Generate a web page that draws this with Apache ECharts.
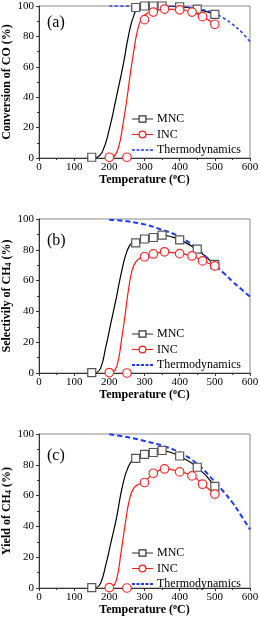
<!DOCTYPE html>
<html><head><meta charset="utf-8">
<script src="https://cdn.jsdelivr.net/npm/echarts@6/dist/echarts.min.js"></script>
<style>html,body{margin:0;padding:0;background:#fff}#c{width:260px;height:623px}</style>
</head><body><div id="c"></div>
<script>
// ---- data ----
const mncX = [150, 275, 300, 325, 350, 400, 450, 500];
const incX = [200, 250, 300, 325, 357, 400, 435, 465, 500];
const mncA = [0.5, 99, 100, 100, 100, 99.5, 98, 94.5];
const incA = [0.5, 0.5, 91, 96, 98, 97.5, 96, 93, 88];
const mncB = [0.3, 84.5, 87, 88, 89.5, 86.5, 80.5, 70.5];
const incB = [0.3, 0, 75.5, 77.3, 78.7, 77.5, 76, 72.8, 69.5];
const mncC = [0.3, 84.2, 86.8, 88, 89.3, 85.7, 78.4, 66];
const incC = [0.3, 0, 68.5, 74.5, 77.3, 75.4, 72.8, 67.4, 61];

// fitted curves
const mncFitAx = [162, 180, 200, 220, 240, 255, 270, 285, 300, 350, 400, 450, 500];
const mncFitAy = [0, 4, 19, 40, 62, 81, 94, 99.5, 100, 100, 99.5, 98, 94.5];
const incFitAx = [210, 225, 240, 250, 260, 270, 280, 290, 300, 325, 357, 400, 435, 465, 500];
const incFitAy = [0, 6, 24, 39, 56, 71, 84, 91, 94, 97, 98, 97.5, 96, 93, 88];
const mncFitBx = [162, 175, 190, 205, 220, 235, 250, 265, 280, 300, 325, 350, 375, 400, 450, 500];
const mncFitBy = [0, 3, 17, 33, 49, 66, 79, 85, 86.5, 87, 88.5, 89.5, 88.5, 86.5, 80, 70];
const incFitBx = [209, 222, 235, 245, 255, 265, 275, 287, 300, 325, 357, 400, 435, 465, 500];
const incFitBy = [0, 5, 22, 38, 55, 67, 72, 74.5, 75.5, 77.3, 78.5, 77.5, 76, 73, 69.5];
const mncFitCx = [162, 175, 190, 205, 220, 237, 254, 270, 300, 325, 350, 375, 400, 450, 500];
const mncFitCy = [0, 3, 15, 30, 45, 65.9, 78.8, 83.5, 87, 88.5, 89, 88, 85.5, 78.5, 66];
const incFitCx = [207, 220, 233, 247, 258, 270, 285, 300, 325, 357, 400, 435, 465, 500];
const incFitCy = [0, 5, 22.7, 44.3, 58, 65, 67.5, 69, 74, 77.3, 75.5, 73, 67.5, 61];

const thX = [200, 250, 300, 350, 400, 450, 500, 525, 550, 575, 600];
const thA = [100, 100, 100, 100, 99.6, 98.5, 95, 92, 88, 83, 76.5];
const thB = [99.5, 98.5, 96.5, 93, 88.5, 80.5, 70, 65, 59.5, 54.5, 49.5];
const thC = [99.8, 98, 95.5, 92.5, 88, 80.5, 69, 62.5, 55.5, 47, 38];

const xTicks = [0, 100, 200, 300, 400, 500, 600];
const yTicks = [0, 20, 40, 60, 80, 100];
const panelLabels = ['(a)', '(b)', '(c)'];
const yNames = ['Conversion of CO (%)', 'Selectivily of CH{sub|4} (%)', 'Yield of CH{sub|4} (%)'];

// ---- chart ----
const F = 'Liberation Serif';
const zip = (xs, ys) => xs.map((x, i) => [x, ys[i]]);
const tops = [6, 219, 434];
const H = [152, 154, 154];
const legendTops = [113, 328, 547];
const labelOff = [9, 14, 14];
// legend icon paths (21 x 8 box; tiny corner squares fix the bounding box)
const BOX = 'M0 0h0.01v0.01h-0.01Z M20.99 7.99h0.01v0.01h-0.01Z ';
const iconMNC = 'path://' + BOX + 'M0 3.4H6.5V4.6H0Z M14.5 3.4H21V4.6H14.5Z M6.5 0.2H14.5V7.8H6.5Z M7.7 1.4V6.6H13.3V1.4Z';
const iconINC = 'path://' + BOX + 'M0 3.4H6.6V4.6H0Z M14.4 3.4H21V4.6H14.4Z M6.5 4A4 4 0 1 1 14.5 4A4 4 0 1 1 6.5 4Z M7.7 4A2.8 2.8 0 1 0 13.3 4A2.8 2.8 0 1 0 7.7 4Z';
const dashIcon = (h) => {
  const y0 = 4 - h / 2, y1 = 4 + h / 2;
  let d = '';
  [[0, 3], [4.5, 7.5], [9, 12], [13.5, 16.5], [18, 21]].forEach(([a, b]) => { d += `M${a} ${y0}H${b}V${y1}H${a}Z `; });
  return 'path://' + BOX + d;
};
const panels = [
  {mnc: mncA, inc: incA, mf: zip(mncFitAx, mncFitAy), inf: zip(incFitAx, incFitAy), th: thA, dash: [3, 2.5], tw: 1.5},
  {mnc: mncB, inc: incB, mf: zip(mncFitBx, mncFitBy), inf: zip(incFitBx, incFitBy), th: thB, dash: [5, 3], tw: 2},
  {mnc: mncC, inc: incC, mf: zip(mncFitCx, mncFitCy), inf: zip(incFitCx, incFitCy), th: thC, dash: [5, 3], tw: 2}
];
const rich = {
  sub: {fontFamily: F, fontWeight: 'bold', fontSize: 8, verticalAlign: 'bottom', padding: [5, 0, 0, 0]},
  sup: {fontFamily: F, fontWeight: 'bold', fontSize: 8, verticalAlign: 'top', padding: [0, 0, 5, 0]}
};
const grid = [], xAxis = [], yAxis = [], series = [], legend = [], title = [];
panels.forEach((p, i) => {
  grid.push({left: 39, top: tops[i], width: 211, height: H[i], containLabel: false, outerBoundsMode: 'none',
    show: true, borderColor: '#888', borderWidth: 1, backgroundColor: 'transparent'});
  xAxis.push({
    gridIndex: i, type: 'value', min: xTicks[0], max: xTicks[xTicks.length - 1], interval: 100,
    axisLine: {lineStyle: {color: '#333', width: 1}},
    axisTick: {length: 3, lineStyle: {color: '#333'}},
    minorTick: {show: true, splitNumber: 2, length: 2, lineStyle: {color: '#333'}},
    splitLine: {show: false},
    axisLabel: {color: '#000', fontFamily: F, fontSize: 11, margin: 4},
    name: 'Temperature ({sup|o}C)', nameLocation: 'middle', nameGap: 15, nameMoveOverlap: false,
    nameTextStyle: {color: '#000', fontFamily: F, fontWeight: 'bold', fontSize: 12, rich: rich}
  });
  yAxis.push({
    gridIndex: i, type: 'value', min: yTicks[0], max: yTicks[yTicks.length - 1], interval: 20,
    axisLine: {show: true, lineStyle: {color: '#333', width: 1}},
    axisTick: {show: true, length: 3, lineStyle: {color: '#333'}},
    minorTick: {show: true, splitNumber: 2, length: 2, lineStyle: {color: '#333'}},
    splitLine: {show: false},
    axisLabel: {color: '#000', fontFamily: F, fontSize: 11, margin: 5},
    name: yNames[i], nameLocation: 'middle', nameGap: 26, nameMoveOverlap: false,
    nameTextStyle: {color: '#000', fontFamily: F, fontWeight: 'bold', fontSize: 12, rich: rich}
  });
  // fitted curves
  series.push({type: 'line', xAxisIndex: i, yAxisIndex: i, data: p.mf, smooth: 0.5, showSymbol: false, symbol: 'none', lineStyle: {color: '#000', width: 1.2}, z: 2, silent: true});
  series.push({type: 'line', xAxisIndex: i, yAxisIndex: i, data: p.inf, smooth: 0.5, showSymbol: false, symbol: 'none', lineStyle: {color: '#ff1a1a', width: 1.2}, z: 2, silent: true});
  // thermodynamics
  series.push({name: 'Thermodynamics', type: 'line', xAxisIndex: i, yAxisIndex: i, data: zip(thX, p.th), smooth: 0.4, symbol: 'none', lineStyle: {color: '#1d3cf0', width: p.tw, type: p.dash}, z: 3});
  // markers
  series.push({name: 'MNC', type: 'line', xAxisIndex: i, yAxisIndex: i, data: zip(mncX, p.mnc), symbol: 'rect', symbolSize: 8, showAllSymbol: true,
    itemStyle: {color: '#fff', borderColor: '#555', borderWidth: 1.2}, lineStyle: {opacity: 0, color: '#000'}, z: 4});
  series.push({name: 'INC', type: 'line', xAxisIndex: i, yAxisIndex: i, data: zip(incX, p.inc), symbol: 'circle', symbolSize: 8.5, showAllSymbol: true,
    itemStyle: {color: '#fff', borderColor: '#ff2a2a', borderWidth: 1.2}, lineStyle: {opacity: 0, color: '#ff1a1a'}, z: 4});
  legend.push({
    left: 132, top: legendTops[i], padding: 0, orient: 'vertical', itemWidth: 21, itemHeight: 8, itemGap: 3.5, selectedMode: false,
    symbolKeepAspect: true,
    textStyle: {fontFamily: F, fontSize: 12, color: '#000', padding: [0, 0, 0, -1]},
    data: [
      {name: 'MNC', icon: iconMNC, itemStyle: {color: '#333', borderWidth: 0, opacity: 1}},
      {name: 'INC', icon: iconINC, itemStyle: {color: '#ff1a1a', borderWidth: 0, opacity: 1}},
      {name: 'Thermodynamics', icon: dashIcon(p.tw), itemStyle: {color: '#1d3cf0', borderWidth: 0, opacity: 1}}
    ]
  });
  title.push({text: panelLabels[i], left: 47, top: tops[i] + labelOff[i], padding: 0, textStyle: {fontFamily: F, fontSize: 16, fontWeight: 'normal', color: '#000'}});
});
const chart = echarts.init(document.getElementById('c'), null, {renderer: 'canvas'});
chart.setOption({animation: false, backgroundColor: '#fff', title, grid, xAxis, yAxis, series, legend});
</script></body></html>
